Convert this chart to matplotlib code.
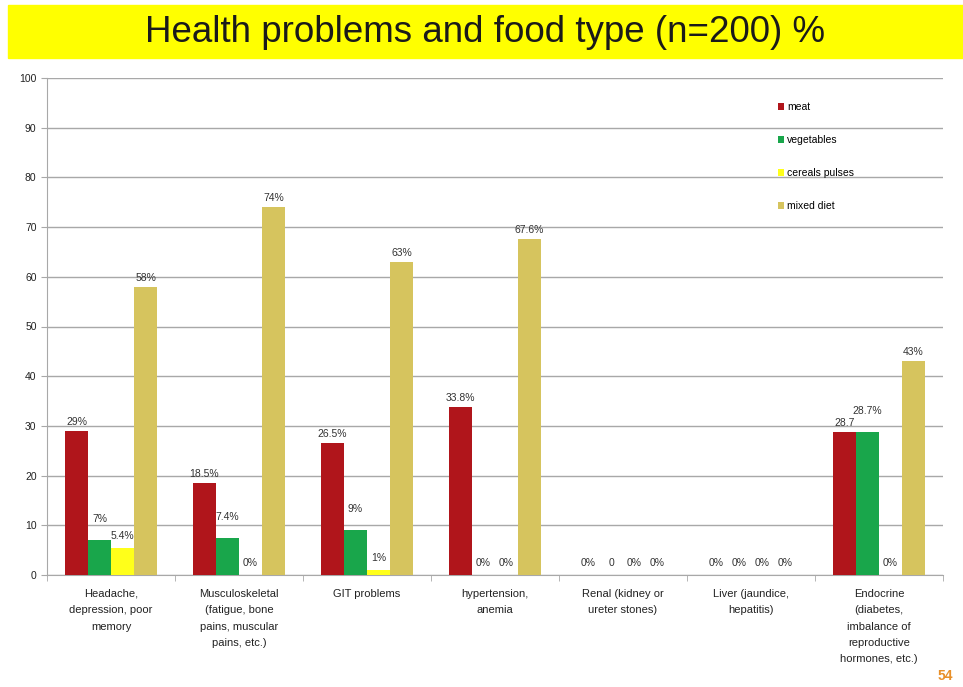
import numpy as np
import matplotlib
matplotlib.use("Agg")
import matplotlib.pyplot as plt
from matplotlib.patches import Rectangle

# du lieu doc tu hinh
categories = ["Headache,\ndepression, poor\nmemory",
              "Musculoskeletal\n(fatigue, bone\npains, muscular\npains, etc.)",
              "GIT problems",
              "hypertension,\nanemia",
              "Renal (kidney or\nureter stones)",
              "Liver (jaundice,\nhepatitis)",
              "Endocrine\n(diabetes,\nimbalance of\nreproductive\nhormones, etc.)"]
series_names = ["meat", "vegetables", "cereals pulses", "mixed diet"]
meat = [29, 18.5, 26.5, 33.8, 0, 0, 28.7]
vegetables = [7, 7.4, 9, 0, 0, 0, 28.7]
cereals = [5.4, 0, 1, 0, 0, 0, 0]
mixed = [58, 74, 63, 67.6, 0, 0, 43]
meat_lbl = ["29%", "18.5%", "26.5%", "33.8%", "0%", "0%", "28.7"]
veg_lbl = ["7%", "7.4%", "9%", "0%", "0", "0%", "28.7%"]
cer_lbl = ["5.4%", "0%", "1%", "0%", "0%", "0%", "0%"]
mix_lbl = ["58%", "74%", "63%", "67.6%", "0%", "0%", "43%"]

colors = ["#B0151B", "#19A64B", "#FFFF1A", "#D6C45E"]
pads = [3, 12, 5, 3]   # khoang cach nhan cho cot > 0

plt.rcParams["font.family"] = ["Liberation Sans", "DejaVu Sans"]

fig = plt.figure(figsize=(9.63, 6.87), dpi=100)
fig.patches.append(Rectangle((8 / 963, 1 - 58 / 687), 955 / 963, 53 / 687,
                             transform=fig.transFigure, color="#FFFF00", zorder=0))
fig.text(485 / 963, 1 - 42 / 687, "Health problems and food type (n=200) %",
         ha="center", va="baseline", fontsize=26.5, color="#1a1a1a")
fig.text(945 / 963, 1 - 676 / 687, "54", ha="center", va="center",
         fontsize=10, fontweight="bold", color="#E8902A")

ax = fig.add_axes([47 / 963, 1 - 575 / 687, 896 / 963, 497 / 687])
x = np.arange(len(categories))
w = 0.18
data = [meat, vegetables, cereals, mixed]
labels = [meat_lbl, veg_lbl, cer_lbl, mix_lbl]
for i, (vals, lbl) in enumerate(zip(data, labels)):
    bars = ax.bar(x + (i - 1.5) * w, vals, w, color=colors[i], label=series_names[i], zorder=3)
    for b, v, t in zip(bars, vals, lbl):
        p = pads[i] if v > 0 else 5
        ax.annotate(t, (b.get_x() + b.get_width() / 2, v), xytext=(0, p),
                    textcoords="offset points", ha="center", va="bottom",
                    fontsize=7.5, color="#333333")

ax.set_xlim(-0.5, len(categories) - 0.5)
ax.set_ylim(0, 100)
ax.set_yticks(range(0, 101, 10))
ax.yaxis.grid(True, color="#A8A8A8", lw=1)
ax.set_axisbelow(True)
ax.set_xticks(x)
ax.set_xticklabels(categories, fontsize=8, color="#222222", linespacing=1.8)
ax.set_xticks(np.arange(-0.5, len(categories)), minor=True)
ax.tick_params(axis="x", which="major", length=0, pad=10)
ax.tick_params(axis="x", which="minor", length=4, color="#A8A8A8")
ax.tick_params(axis="y", labelsize=7.5, length=4, color="#A8A8A8", labelcolor="#222222")
for s in ["top", "right"]:
    ax.spines[s].set_visible(False)
for s in ["left", "bottom"]:
    ax.spines[s].set_color("#A8A8A8")

ax.legend(loc="upper left", bbox_to_anchor=(0.805, 0.97), frameon=False, fontsize=7.5,
          handlelength=0.6, handleheight=0.6, handletextpad=0.3, labelspacing=2.2)

fig.savefig("out.png", dpi=100)
